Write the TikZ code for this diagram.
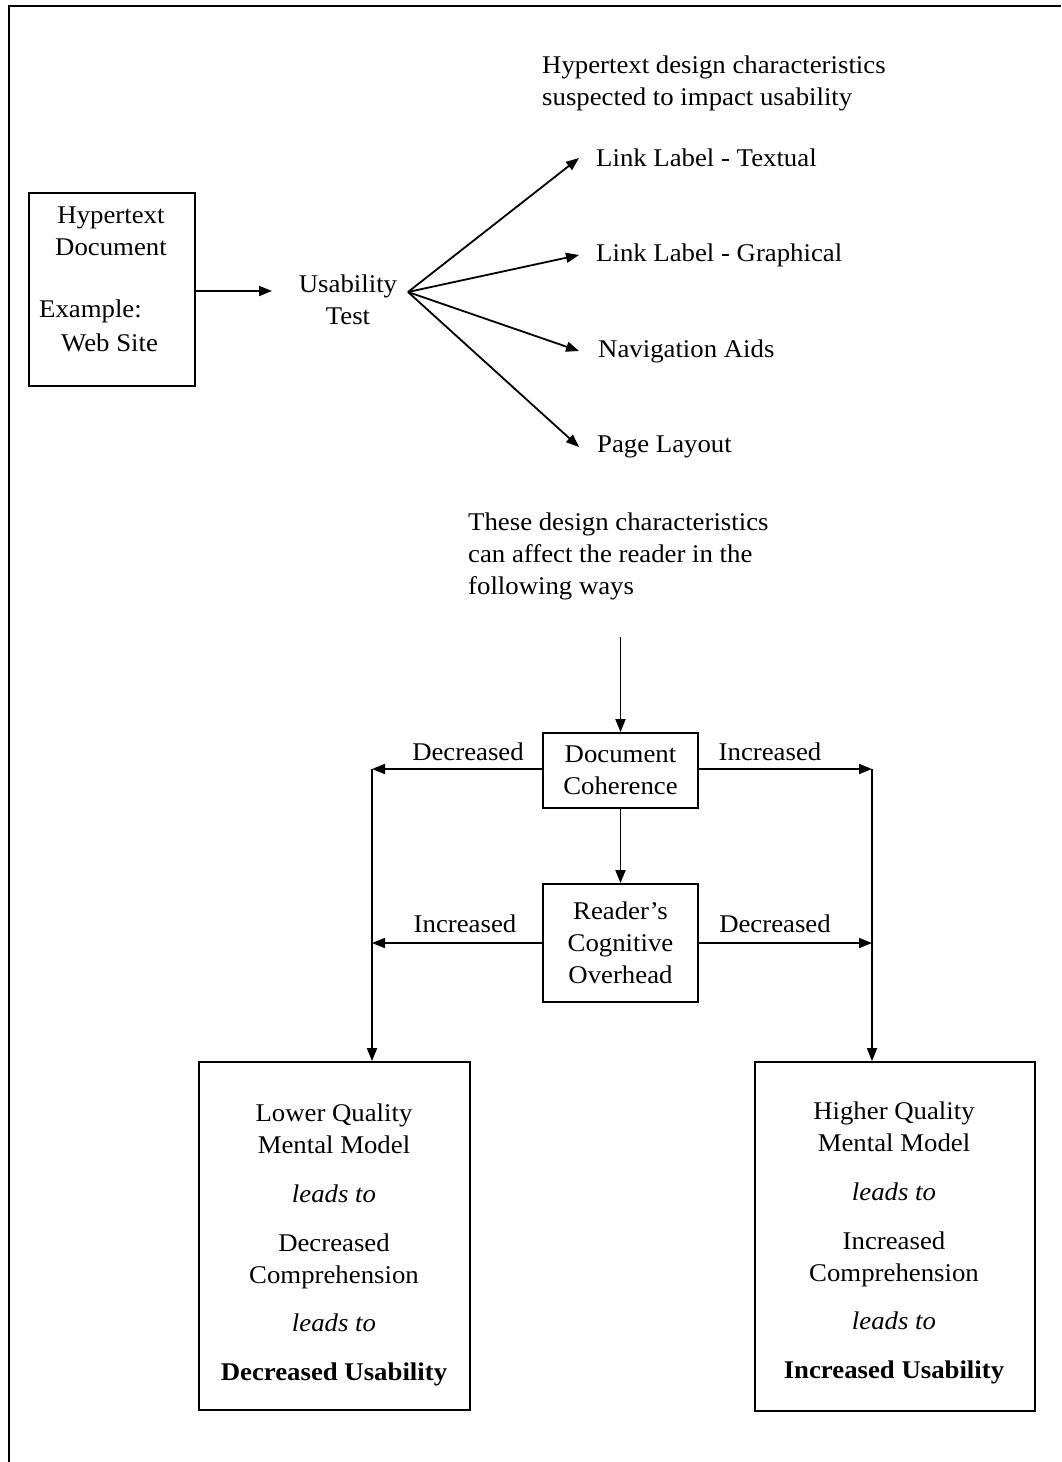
\documentclass[tikz,border=0pt]{standalone}
\usepackage{fontspec}
\setmainfont[FakeStretch=1.05]{Liberation Serif}
\usetikzlibrary{arrows.meta}
\begin{document}
\begin{tikzpicture}[x=1pt,y=-1pt,
  every node/.style={font=\fontsize{25.5}{32}\selectfont, inner sep=0pt},
  arr/.style={line width=1.8pt,-{Triangle[length=13pt,width=10pt]}},
  box/.style={draw,line width=1.8pt},
  lbl/.style={anchor=west},
  txt/.style={align=center}]
\useasboundingbox (0,0) rectangle (1061,1462);
% outer frame (top and left)
\coordinate (frtl) at (9,6);
\coordinate (frtr) at (1061,6);
\coordinate (frbl) at (9,1462);
\draw[line width=2pt] (frtr) -- (frtl) -- (frbl);
% hypertext document box
\node[box, minimum width=166pt, minimum height=193pt] (hd) at (112,289.5) {};
\node[txt] (hdt) at (111,231) {Hypertext\\Document};
\node[anchor=west] (hde) at (39,311) {Example:};
\node[anchor=west] (hdw) at (61,343) {Web Site};
% usability test
\node[txt] (ut) at (348,300) {Usability\\Test};
\draw[arr] (hd.east |- 0,291) -- (272,291);
\coordinate (fan) at (408,292);
% header
\node[align=left, anchor=west] (hdr) at (542,83) {Hypertext design characteristics\\suspected to impact usability};
% characteristic labels
\node[lbl] (l1) at (596,158) {Link Label - Textual};
\node[lbl] (l2) at (596,255) {Link Label - Graphical};
\node[lbl] (l3) at (598,351) {Navigation Aids};
\node[lbl] (l4) at (597,447) {Page Layout};
\draw[arr] (fan) -- ([xshift=-17pt]l1.west);
\draw[arr] (fan) -- ([xshift=-17pt]l2.west);
\draw[arr] (fan) -- ([xshift=-19pt]l3.west);
\draw[arr] (fan) -- ([xshift=-18pt]l4.west);
% explanation
\node[align=left, anchor=west] (expl) at (468,556) {These design characteristics\\can affect the reader in the\\following ways};
% document coherence
\node[box, txt, minimum width=155pt, minimum height=75pt] (dc) at (620.5,770.5) {Document\\Coherence};
\coordinate (vtop) at (620.5,637);
\draw[arr] (vtop) -- (dc.north);
% reader's cognitive overhead
\node[box, txt, minimum width=155pt, minimum height=118pt] (rc) at (620.5,943) {Reader’s\\Cognitive\\Overhead};
\draw[arr] (dc.south) -- (rc.north);
% side lines
\coordinate (lt) at (372,769);
\coordinate (rt) at (872,769);
\coordinate (lm) at (372,943);
\coordinate (rm) at (872,943);
\draw[arr] (dc.west |- lt) -- (lt);
\draw[arr] (dc.east |- rt) -- (rt);
\draw[arr] (rc.west |- lm) -- (lm);
\draw[arr] (rc.east |- rm) -- (rm);
\node (d1) at (468,752) {Decreased};
\node (i1) at (770,752) {Increased};
\node (i2) at (465,924) {Increased};
\node (d2) at (775,924) {Decreased};
% result boxes
\node[box, minimum width=271pt, minimum height=348pt] (lq) at (334.5,1236) {};
\node[box, minimum width=280pt, minimum height=349pt] (hq) at (895,1236.5) {};
\draw[arr] (lt) -- (lq.north -| lt);
\draw[arr] (rt) -- (hq.north -| rt);
\node[txt] (lqt) at (334,1245) {Lower Quality\\Mental Model\\[17pt]\textit{leads to}\\[17pt]Decreased\\Comprehension\\[16pt]\textit{leads to}\\[17pt]\textbf{Decreased Usability}};
\node[txt] (hqt) at (894,1243) {Higher Quality\\Mental Model\\[17pt]\textit{leads to}\\[17pt]Increased\\Comprehension\\[16pt]\textit{leads to}\\[17pt]\textbf{Increased Usability}};
\end{tikzpicture}
\end{document}
